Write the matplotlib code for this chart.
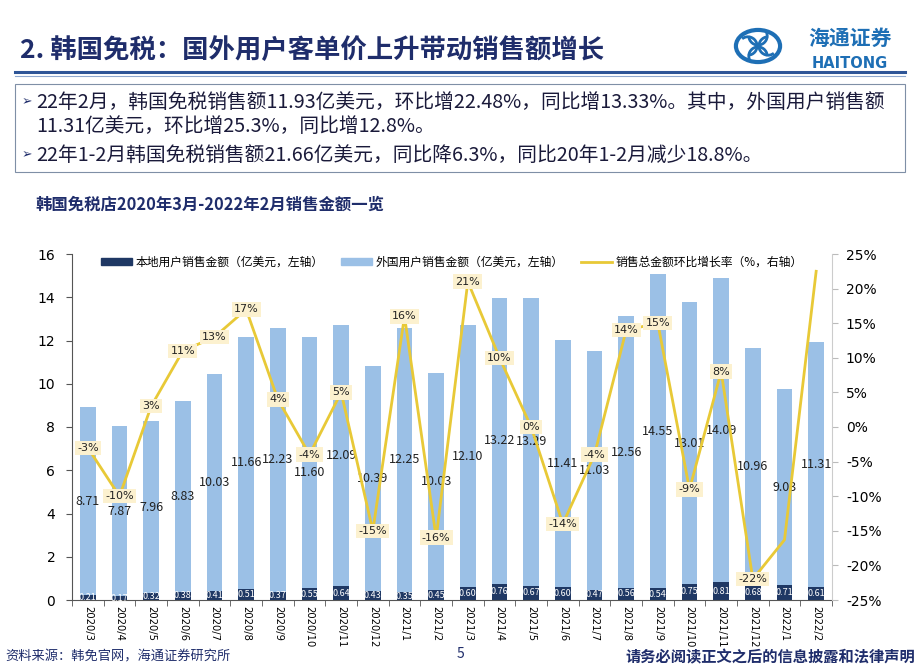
import numpy as np
import matplotlib
matplotlib.use('Agg')
import matplotlib.pyplot as plt
from matplotlib.patches import Rectangle, Circle, Arc, Patch
from matplotlib.lines import Line2D

plt.rcParams['font.family'] = ['Noto Sans CJK SC', 'DejaVu Sans']

months = ['2020/3', '2020/4', '2020/5', '2020/6', '2020/7', '2020/8', '2020/9',
          '2020/10', '2020/11', '2020/12', '2021/1', '2021/2', '2021/3', '2021/4',
          '2021/5', '2021/6', '2021/7', '2021/8', '2021/9', '2021/10', '2021/11',
          '2021/12', '2022/1', '2022/2']
local_sales = [0.21, 0.17, 0.32, 0.38, 0.41, 0.51, 0.37, 0.55, 0.64, 0.43, 0.35, 0.45,
               0.60, 0.76, 0.67, 0.60, 0.47, 0.56, 0.54, 0.75, 0.81, 0.68, 0.71, 0.61]
foreign_sales = [8.71, 7.87, 7.96, 8.83, 10.03, 11.66, 12.23, 11.60, 12.09, 10.39, 12.25, 10.03,
                 12.10, 13.22, 13.29, 11.41, 11.03, 12.56, 14.55, 13.01, 14.09, 10.96, 9.03, 11.31]
mom_growth = [-3, -10, 3, 11, 13, 17, 4, -4, 5, -15, 16, -16, 21, 10, 0, -14, -4, 14, 15, -9, 8,
              -22, -16.3, 22.5]
n_labeled = 22  # last two points have no data label in the source

navy = '#1F2D6B'
dark_bar = '#1F3864'
light_bar = '#9BC0E6'
gold = '#E8C937'

fig = plt.figure(figsize=(9.2, 6.69), dpi=100)
W, H = 920.0, 669.0


def fx(px):
    return px / W


def fy(py):
    return 1 - py / H


# header
fig.text(fx(20), fy(50), '2. 韩国免税：国外用户客单价上升带动销售额增长', fontsize=19,
         fontweight='bold', color=navy, va='center', ha='left')
fig.add_artist(Line2D([fx(15), fx(905)], [fy(72), fy(72)], color='#2E5597', lw=2.2))
fig.add_artist(Line2D([fx(15), fx(905)], [fy(76), fy(76)], color='#8FA8CF', lw=0.8))

# logo
lx, ly = fx(758), fy(46)
fig.add_artist(Circle((lx, ly), 0.024, transform=fig.transFigure, fill=False,
                      ec='#1E6FB5', lw=3))
for ang in [0, 90, 180, 270]:
    dx = 0.011 * np.cos(np.radians(ang))
    dy = 0.011 * np.sin(np.radians(ang)) * W / H
    fig.add_artist(Arc((lx + dx, ly + dy), 0.02, 0.02 * W / H, theta1=ang + 90,
                       theta2=ang + 300, transform=fig.transFigure, color='#1E6FB5', lw=2))
fig.text(fx(850), fy(38), '海通证券', fontsize=15, color='#1E6FB5', fontweight='bold',
         fontstyle='italic', ha='center', va='center')
fig.text(fx(850), fy(63), 'HAITONG', fontsize=10.5, color='#1E6FB5', fontweight='bold',
         ha='center', va='center', family='DejaVu Sans')

# summary box
fig.add_artist(Rectangle((fx(15), fy(172)), fx(890), (172 - 84) / H, transform=fig.transFigure,
                         fill=False, ec='#7F8FA6', lw=0.8))
lines = [
    (22, 102, '➢', 36, '22年2月，韩国免税销售额11.93亿美元，环比增22.48%，同比增13.33%。其中，外国用户销售额'),
    (None, 127, None, 36, '11.31亿美元，环比增25.3%，同比增12.8%。'),
    (22, 155, '➢', 36, '22年1-2月韩国免税销售额21.66亿美元，同比降6.3%，同比20年1-2月减少18.8%。'),
]
for bx, yy, b, tx, txt in lines:
    if b:
        fig.text(fx(bx), fy(yy), b, fontsize=9, color=navy, va='center', family='DejaVu Sans')
    fig.text(fx(tx), fy(yy), txt, fontsize=14.2, color='#1A1A3A', va='center')

fig.text(fx(35), fy(205), '韩国免税店2020年3月-2022年2月销售金额一览', fontsize=11.8,
         fontweight='bold', color=navy, va='center')

# chart
ax = fig.add_axes([fx(72), fy(600), fx(832) - fx(72), (600 - 254) / H])
x = np.arange(len(months))
ax.bar(x, local_sales, width=0.5, color=dark_bar, zorder=2)
ax.bar(x, foreign_sales, width=0.5, bottom=local_sales, color=light_bar, zorder=2)
label_nudge = {7: -0.45}  # 2020/10 label sits a bit lower in the source
for i in range(len(months)):
    ax.text(x[i], local_sales[i] / 2, '%.2f' % local_sales[i], ha='center', va='center',
            fontsize=6.5, color='white', zorder=3)
    ax.text(x[i], local_sales[i] + foreign_sales[i] / 2 + label_nudge.get(i, 0),
            '%.2f' % foreign_sales[i], ha='center', va='center', fontsize=9,
            color='#222222', zorder=3)
ax.set_xlim(-0.5, len(months) - 0.5)
ax.set_ylim(0, 16)
ax.set_yticks(np.arange(0, 17, 2))
ax.set_xticks(x)
ax.set_xticklabels(months, rotation=270, fontsize=7.2, family='DejaVu Sans')
ax.set_xticks(np.arange(-0.5, len(months), 1), minor=True)
ax.tick_params(axis='x', which='major', length=0, pad=4)
ax.tick_params(axis='x', which='minor', length=4, color='#555555')
ax.tick_params(axis='y', labelsize=10, length=4, color='#555555', pad=8)
for lab in ax.get_yticklabels():
    lab.set_family('DejaVu Sans')
ax.spines['top'].set_visible(False)
ax.spines['right'].set_visible(False)
ax.spines['left'].set_color('#555555')
ax.spines['bottom'].set_color('#555555')

ax2 = ax.twinx()
ax2.plot(x, mom_growth, color=gold, lw=2, zorder=4)
for i in range(n_labeled):
    ax2.text(x[i], mom_growth[i], '%d%%' % mom_growth[i], ha='center', va='center',
             fontsize=8, color='#222222', zorder=5, family='DejaVu Sans',
             bbox=dict(boxstyle='square,pad=0.2', fc='#FCF1CF', ec='none'))
ax2.set_ylim(-25, 25)
ax2.set_yticks(np.arange(-25, 26, 5))
ax2.set_yticklabels(['%d%%' % v for v in np.arange(-25, 26, 5)], fontsize=10,
                    family='DejaVu Sans')
ax2.tick_params(axis='y', length=4, color='#BBBBBB', pad=6)
for s in ['top', 'left', 'bottom']:
    ax2.spines[s].set_visible(False)
ax2.spines['right'].set_color('#CCCCCC')

handles = [Patch(color=dark_bar), Patch(color=light_bar), Line2D([], [], color=gold, lw=2)]
labels = ['本地用户销售金额（亿美元，左轴）', '外国用户销售金额（亿美元，左轴）',
          '销售总金额环比增长率（%，右轴）']
ax2.legend(handles, labels, loc='upper center', bbox_to_anchor=(0.5, 1.025), ncol=3,
           frameon=False, fontsize=8.5, handlelength=2.6, handleheight=0.5,
           columnspacing=1.5, handletextpad=0.3)

# footer
fig.text(fx(5), fy(657), '资料来源：韩免官网，海通证券研究所', fontsize=9.5, color=navy, va='center')
fig.text(fx(460), fy(654), '5', fontsize=10, color=navy, va='center', ha='center')
fig.text(fx(915), fy(657), '请务必阅读正文之后的信息披露和法律声明', fontsize=11,
         fontweight='bold', color=navy, va='center', ha='right')

fig.savefig('out.png', dpi=100)
